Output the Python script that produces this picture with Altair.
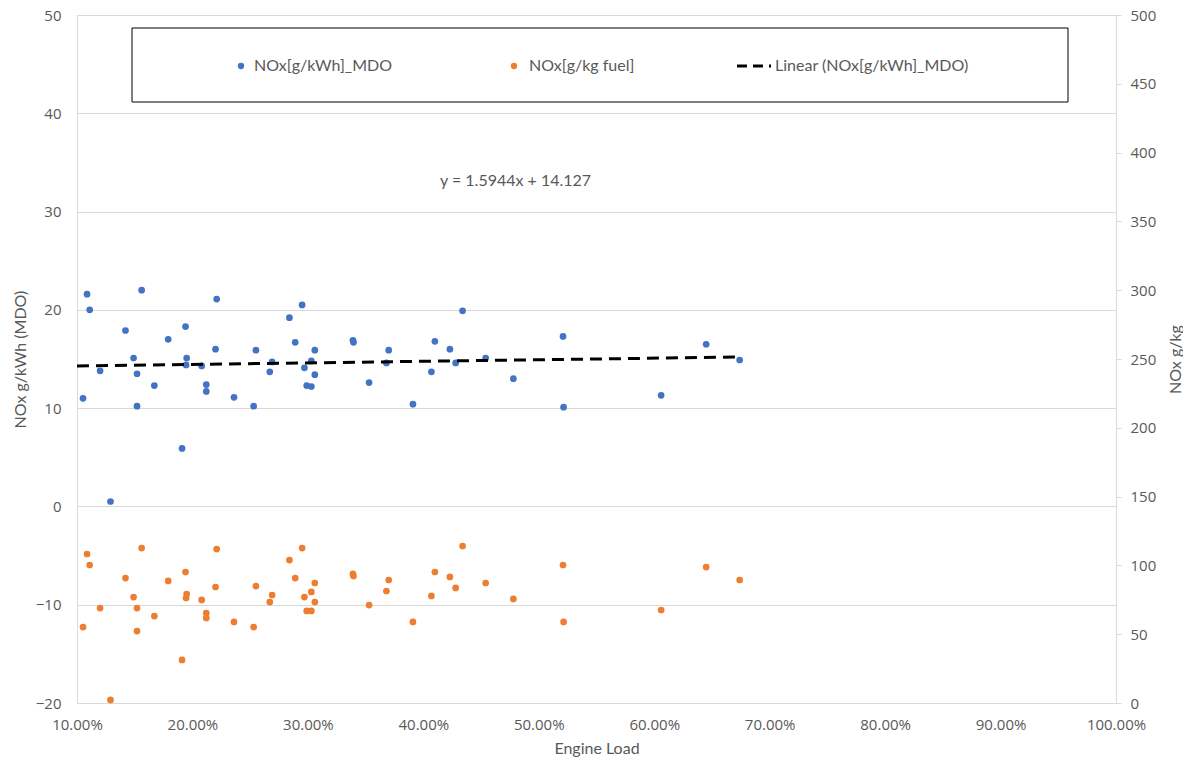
import altair as alt
import pandas as pd

# Engine load (fraction) for each measurement
load = [0.1052, 0.1087, 0.1110, 0.1200, 0.1290, 0.1420, 0.1490, 0.1520, 0.1520, 0.1560,
        0.1670, 0.1790, 0.1910, 0.1940, 0.1950, 0.1945, 0.2080, 0.2120, 0.2120, 0.2200,
        0.2210, 0.2360, 0.2530, 0.2550, 0.2670, 0.2690, 0.2840, 0.2890, 0.2950, 0.2970,
        0.2990, 0.3030, 0.3030, 0.3060, 0.3060, 0.3390, 0.3395, 0.3530, 0.3680, 0.3700,
        0.3910, 0.4070, 0.4100, 0.4230, 0.4280, 0.4340, 0.4540, 0.4780, 0.5210, 0.5215,
        0.6060, 0.6450, 0.6740]

# NOx [g/kWh] MDO (left axis)
nox_kwh = [11.0, 21.6, 20.0, 13.8, 0.5, 17.9, 15.1, 13.5, 10.2, 22.0,
           12.3, 17.0, 5.9, 18.3, 15.1, 14.4, 14.3, 12.4, 11.7, 16.0,
           21.1, 11.1, 10.2, 15.9, 13.7, 14.7, 19.2, 16.7, 20.5, 14.1,
           12.3, 12.2, 14.8, 15.9, 13.4, 16.9, 16.7, 12.6, 14.6, 15.9,
           10.4, 13.7, 16.8, 16.0, 14.6, 19.9, 15.1, 13.0, 17.3, 10.1,
           11.3, 16.5, 14.9]

# NOx [g/kg fuel] (right axis)
nox_kg = [55.2, 108.3, 100.3, 69.0, 2.2, 90.8, 77.0, 69.0, 52.3, 112.6,
          63.2, 88.7, 31.3, 95.2, 79.2, 76.3, 74.9, 65.4, 61.8, 84.3,
          111.9, 58.9, 55.2, 85.0, 73.4, 78.5, 103.9, 90.8, 112.6, 77.0,
          66.9, 66.9, 80.7, 87.2, 73.4, 93.8, 92.3, 71.2, 81.4, 89.4,
          58.9, 77.8, 95.2, 91.6, 83.6, 114.1, 87.2, 75.6, 100.3, 58.9,
          67.6, 98.8, 89.4]

# Linear trendline end points (y = 1.5944x + 14.127)
trend_load = [0.10, 0.674]
trend_val = [14.29, 15.20]

BLUE = "#4472C4"
ORANGE = "#ED7D31"
GRID = "#D9D9D9"
LBL = "#595959"
LBL_FONT = "Open Sans"
TITLE_FONT = "Lato"

df = pd.DataFrame({"load": load, "nox_kwh": nox_kwh, "nox_kg": nox_kg})
df_trend = pd.DataFrame({"load": trend_load, "val": trend_val})
one = pd.DataFrame({"a": [0]})

W, H = 1039, 688

x_enc = alt.X("load:Q",
              scale=alt.Scale(domain=[0.1, 1.0], nice=False, zero=False),
              axis=alt.Axis(values=[0.1, 0.2, 0.3, 0.4, 0.5, 0.6, 0.7, 0.8, 0.9, 1.0],
                            format=".2%", title="Engine Load", grid=False,
                            ticks=False, domain=True, domainColor=GRID,
                            labelFlush=False, labelOverlap=False,
                            labelFont=LBL_FONT, labelFontSize=15, labelColor=LBL,
                            labelPadding=14, titleFont=TITLE_FONT, titleFontSize=16,
                            titleColor=LBL, titleFontWeight="normal", titlePadding=8))

left_scale = alt.Scale(domain=[-20, 50], nice=False, zero=False)
left_axis = alt.Axis(values=list(range(-20, 51, 10)), orient="left", grid=True,
                     gridColor=GRID, ticks=False, domain=True, domainColor=GRID,
                     labelFlush=False,
                     labelFont=LBL_FONT, labelFontSize=15, labelColor=LBL,
                     labelPadding=16, title="NOx g/kWh  (MDO)", titleFont=TITLE_FONT,
                     titleFontSize=16, titleColor=LBL, titleFontWeight="normal",
                     titlePadding=7)

blue_pts = alt.Chart(df).mark_circle(size=45, opacity=1, color=BLUE).encode(
    x=x_enc,
    y=alt.Y("nox_kwh:Q", scale=left_scale, axis=left_axis),
)

trend = alt.Chart(df_trend).mark_line(color="black", strokeWidth=3,
                                      strokeDash=[12, 7]).encode(
    x=alt.X("load:Q"),
    y=alt.Y("val:Q", scale=left_scale),
)

right_axis = alt.Axis(values=list(range(0, 501, 50)), orient="right", grid=False,
                      ticks=True, tickSize=5, tickColor=GRID, domain=True,
                      domainColor=GRID, labelFlush=False,
                      labelFont=LBL_FONT, labelFontSize=15,
                      labelColor=LBL, labelPadding=9, title="NOx g/kg",
                      titleAngle=270, titleBaseline="middle",
                      titleFont=TITLE_FONT, titleFontSize=16, titleColor=LBL,
                      titleFontWeight="normal", titlePadding=20)

orange_pts = alt.Chart(df).mark_circle(size=45, opacity=1, color=ORANGE).encode(
    x=alt.X("load:Q"),
    y=alt.Y("nox_kg:Q", scale=alt.Scale(domain=[0, 500], nice=False, zero=False),
            axis=right_axis),
)

# Legend box and entries
box = alt.Chart(one).mark_rect(fill="white", stroke="black", strokeWidth=1).encode(
    x=alt.value(55), x2=alt.value(991), y=alt.value(13), y2=alt.value(87))
leg_blue = alt.Chart(one).mark_circle(size=40, color=BLUE, opacity=1).encode(
    x=alt.value(164), y=alt.value(51))
leg_orange = alt.Chart(one).mark_circle(size=40, color=ORANGE, opacity=1).encode(
    x=alt.value(437), y=alt.value(51))
leg_line = alt.Chart(one).mark_rule(color="black", strokeWidth=3,
                                    strokeDash=[10, 6]).encode(
    x=alt.value(660), x2=alt.value(694), y=alt.value(51))
txt_style = dict(font=TITLE_FONT, fontSize=16, color=LBL, align="left", baseline="middle")
leg_t1 = alt.Chart(one).mark_text(text="NOx[g/kWh]_MDO", **txt_style).encode(
    x=alt.value(177), y=alt.value(51))
leg_t2 = alt.Chart(one).mark_text(text="NOx[g/kg fuel]", **txt_style).encode(
    x=alt.value(452), y=alt.value(51))
leg_t3 = alt.Chart(one).mark_text(text="Linear (NOx[g/kWh]_MDO)", **txt_style).encode(
    x=alt.value(698), y=alt.value(51))
eq = alt.Chart(one).mark_text(text="y = 1.5944x + 14.127", **txt_style).encode(
    x=alt.value(363), y=alt.value(166))

left_layer = alt.layer(blue_pts, trend, box, leg_blue, leg_orange, leg_line,
                       leg_t1, leg_t2, leg_t3, eq)

chart = alt.layer(left_layer, orange_pts).resolve_scale(y="independent").properties(
    width=W, height=H,
    autosize=alt.AutoSizeParams(type="none"),
    padding={"left": 69, "top": 7, "right": 67, "bottom": 56},
).configure_view(stroke=None).configure(background="white")

chart.save("out.html", embed_options={"renderer": "svg", "actions": False})
